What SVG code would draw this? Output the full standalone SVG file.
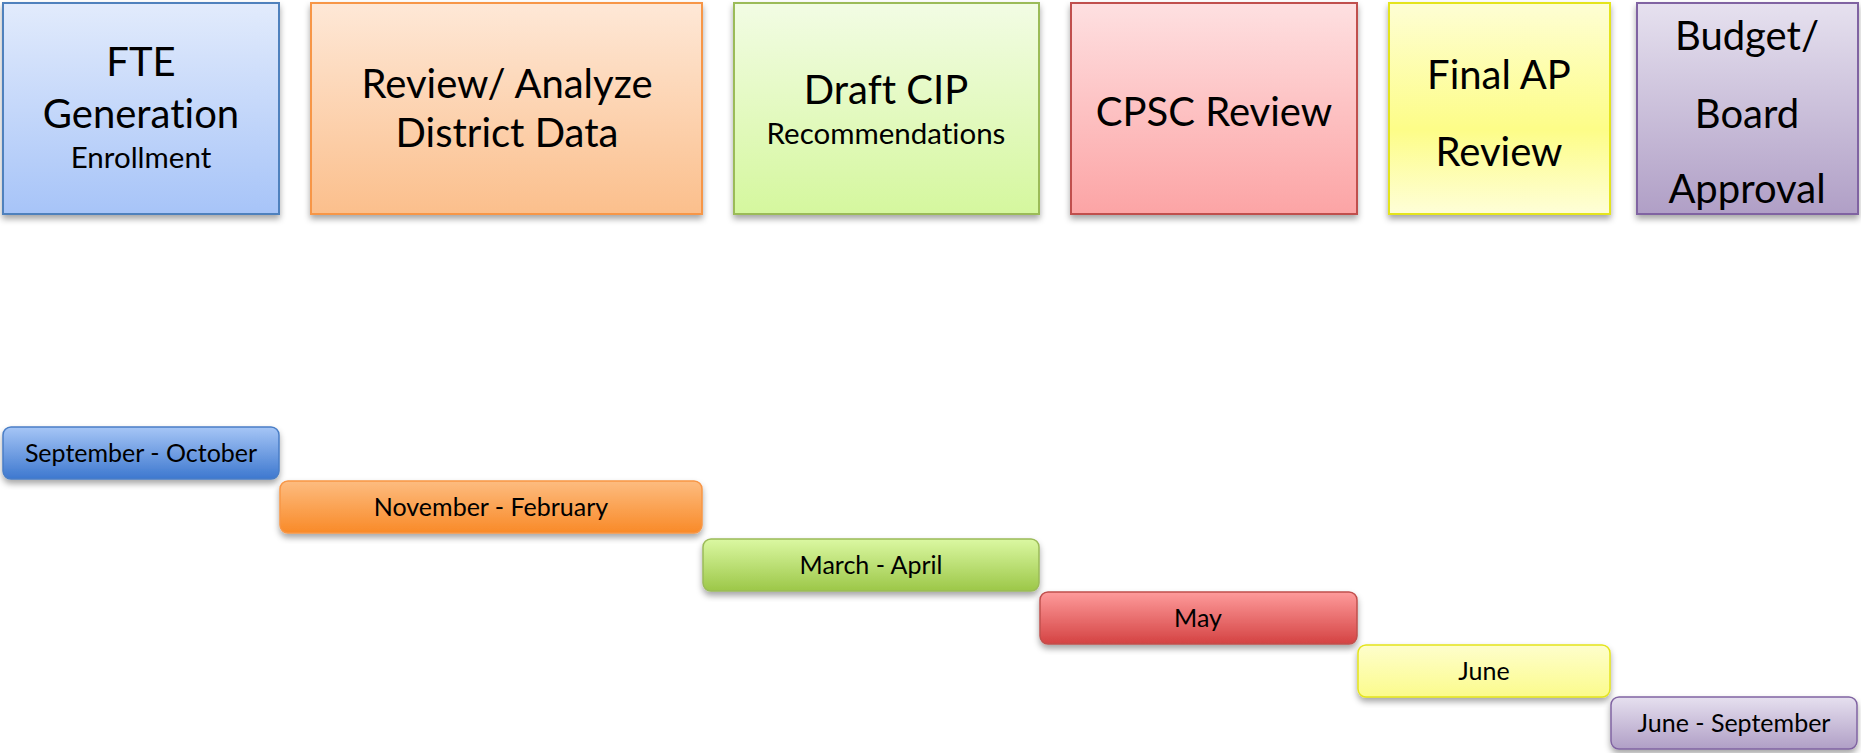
<svg xmlns="http://www.w3.org/2000/svg" width="1861" height="753" viewBox="0 0 1861 753">
<style>
.t{font-family:Lato,"Open Sans",sans-serif;fill:#000;text-anchor:middle;font-variant-ligatures:none;font-feature-settings:"liga" 0}
.big{font-size:40px}
.sm{font-size:29.5px}
.bar{font-size:25px}
.box{stroke-width:2}
</style>
<defs>
<filter id="sh" x="-5%" y="-10%" width="110%" height="130%"><feDropShadow dx="0" dy="4" stdDeviation="3" flood-color="#000" flood-opacity="0.35"/></filter>
<linearGradient id="g1" x1="0" y1="0" x2="0" y2="1"><stop offset="0" stop-color="#e2ebfc"/><stop offset="1" stop-color="#a7c4f8"/></linearGradient>
<linearGradient id="g2" x1="0" y1="0" x2="0" y2="1"><stop offset="0" stop-color="#fee8d7"/><stop offset="1" stop-color="#fbbf8c"/></linearGradient>
<linearGradient id="g3" x1="0" y1="0" x2="0" y2="1"><stop offset="0" stop-color="#f2fce4"/><stop offset="1" stop-color="#d5f79e"/></linearGradient>
<linearGradient id="g4" x1="0" y1="0" x2="0" y2="1"><stop offset="0" stop-color="#fee0e1"/><stop offset="1" stop-color="#fca4a5"/></linearGradient>
<linearGradient id="g5" x1="0" y1="0" x2="0" y2="1"><stop offset="0" stop-color="#fefed4"/><stop offset="0.6" stop-color="#fdfd88"/><stop offset="1" stop-color="#fefed8"/></linearGradient>
<linearGradient id="g6" x1="0" y1="0" x2="0" y2="1"><stop offset="0" stop-color="#e6e1ef"/><stop offset="1" stop-color="#b09fc6"/></linearGradient>
<linearGradient id="b1" x1="0" y1="0" x2="0" y2="1"><stop offset="0" stop-color="#a6c6f6"/><stop offset="1" stop-color="#3d78cf"/></linearGradient>
<linearGradient id="b2" x1="0" y1="0" x2="0" y2="1"><stop offset="0" stop-color="#fdbc80"/><stop offset="1" stop-color="#f98a28"/></linearGradient>
<linearGradient id="b3" x1="0" y1="0" x2="0" y2="1"><stop offset="0" stop-color="#dbf8a2"/><stop offset="1" stop-color="#9cc748"/></linearGradient>
<linearGradient id="b4" x1="0" y1="0" x2="0" y2="1"><stop offset="0" stop-color="#fe9b9b"/><stop offset="1" stop-color="#d44343"/></linearGradient>
<linearGradient id="b5" x1="0" y1="0" x2="0" y2="1"><stop offset="0" stop-color="#fefecc"/><stop offset="1" stop-color="#fbfb8c"/></linearGradient>
<linearGradient id="b6" x1="0" y1="0" x2="0" y2="1"><stop offset="0" stop-color="#e6e0ef"/><stop offset="1" stop-color="#b09fc6"/></linearGradient>
</defs>
<g id="phase-fte" filter="url(#sh)">
<rect class="box" x="3" y="3" width="276" height="211" fill="url(#g1)" stroke="#4f81bd"/>
</g>
<text class="t big" x="141" y="76">FTE</text>
<text class="t big" x="141" y="128">Generation</text>
<text class="t sm" x="141" y="168">Enrollment</text>
<g id="phase-review" filter="url(#sh)">
<rect class="box" x="311" y="3" width="391" height="211" fill="url(#g2)" stroke="#f79646"/>
</g>
<text class="t big" x="507" y="98">Review/ Analyze</text>
<text class="t big" x="507" y="147">District Data</text>
<g id="phase-draft" filter="url(#sh)">
<rect class="box" x="734" y="3" width="305" height="211" fill="url(#g3)" stroke="#9bbb59"/>
</g>
<text class="t big" x="886" y="104">Draft CIP</text>
<text class="t sm" x="886" y="144">Recommendations</text>
<g id="phase-cpsc" filter="url(#sh)">
<rect class="box" x="1071" y="3" width="286" height="211" fill="url(#g4)" stroke="#c0504d"/>
</g>
<text class="t big" x="1214" y="126">CPSC Review</text>
<g id="phase-final" filter="url(#sh)">
<rect class="box" x="1389" y="3" width="221" height="211" fill="url(#g5)" stroke="#e4e41c"/>
</g>
<text class="t big" x="1499" y="89">Final AP</text>
<text class="t big" x="1499" y="166">Review</text>
<g id="phase-budget" filter="url(#sh)">
<rect class="box" x="1637" y="3" width="221" height="211" fill="url(#g6)" stroke="#8064a2"/>
</g>
<text class="t big" x="1747" y="50">Budget/</text>
<text class="t big" x="1747" y="128">Board</text>
<text class="t big" x="1747" y="203">Approval</text>

<g id="bar-sep-oct">
<rect x="3" y="427" width="276" height="52" rx="8" fill="url(#b1)" stroke="#4a7ec6" stroke-width="1.5" filter="url(#sh)"/>
<text class="t bar" x="141" y="462">September - October</text>
</g>
<g id="bar-nov-feb">
<rect x="280" y="481" width="422" height="52" rx="8" fill="url(#b2)" stroke="#f79646" stroke-width="1.5" filter="url(#sh)"/>
<text class="t bar" x="491" y="516">November - February</text>
</g>
<g id="bar-mar-apr">
<rect x="703" y="539" width="336" height="52" rx="8" fill="url(#b3)" stroke="#9bbb59" stroke-width="1.5" filter="url(#sh)"/>
<text class="t bar" x="871" y="574">March - April</text>
</g>
<g id="bar-may">
<rect x="1040" y="592" width="317" height="52" rx="8" fill="url(#b4)" stroke="#c0504d" stroke-width="1.5" filter="url(#sh)"/>
<text class="t bar" x="1198" y="627">May</text>
</g>
<g id="bar-june">
<rect x="1358" y="645" width="252" height="52" rx="8" fill="url(#b5)" stroke="#e4e41c" stroke-width="1.5" filter="url(#sh)"/>
<text class="t bar" x="1484" y="680">June</text>
</g>
<g id="bar-jun-sep">
<rect x="1611" y="697" width="246" height="52" rx="8" fill="url(#b6)" stroke="#8064a2" stroke-width="1.5" filter="url(#sh)"/>
<text class="t bar" x="1734" y="732">June - September</text>
</g>
<g id="connectors"></g>
</svg>
